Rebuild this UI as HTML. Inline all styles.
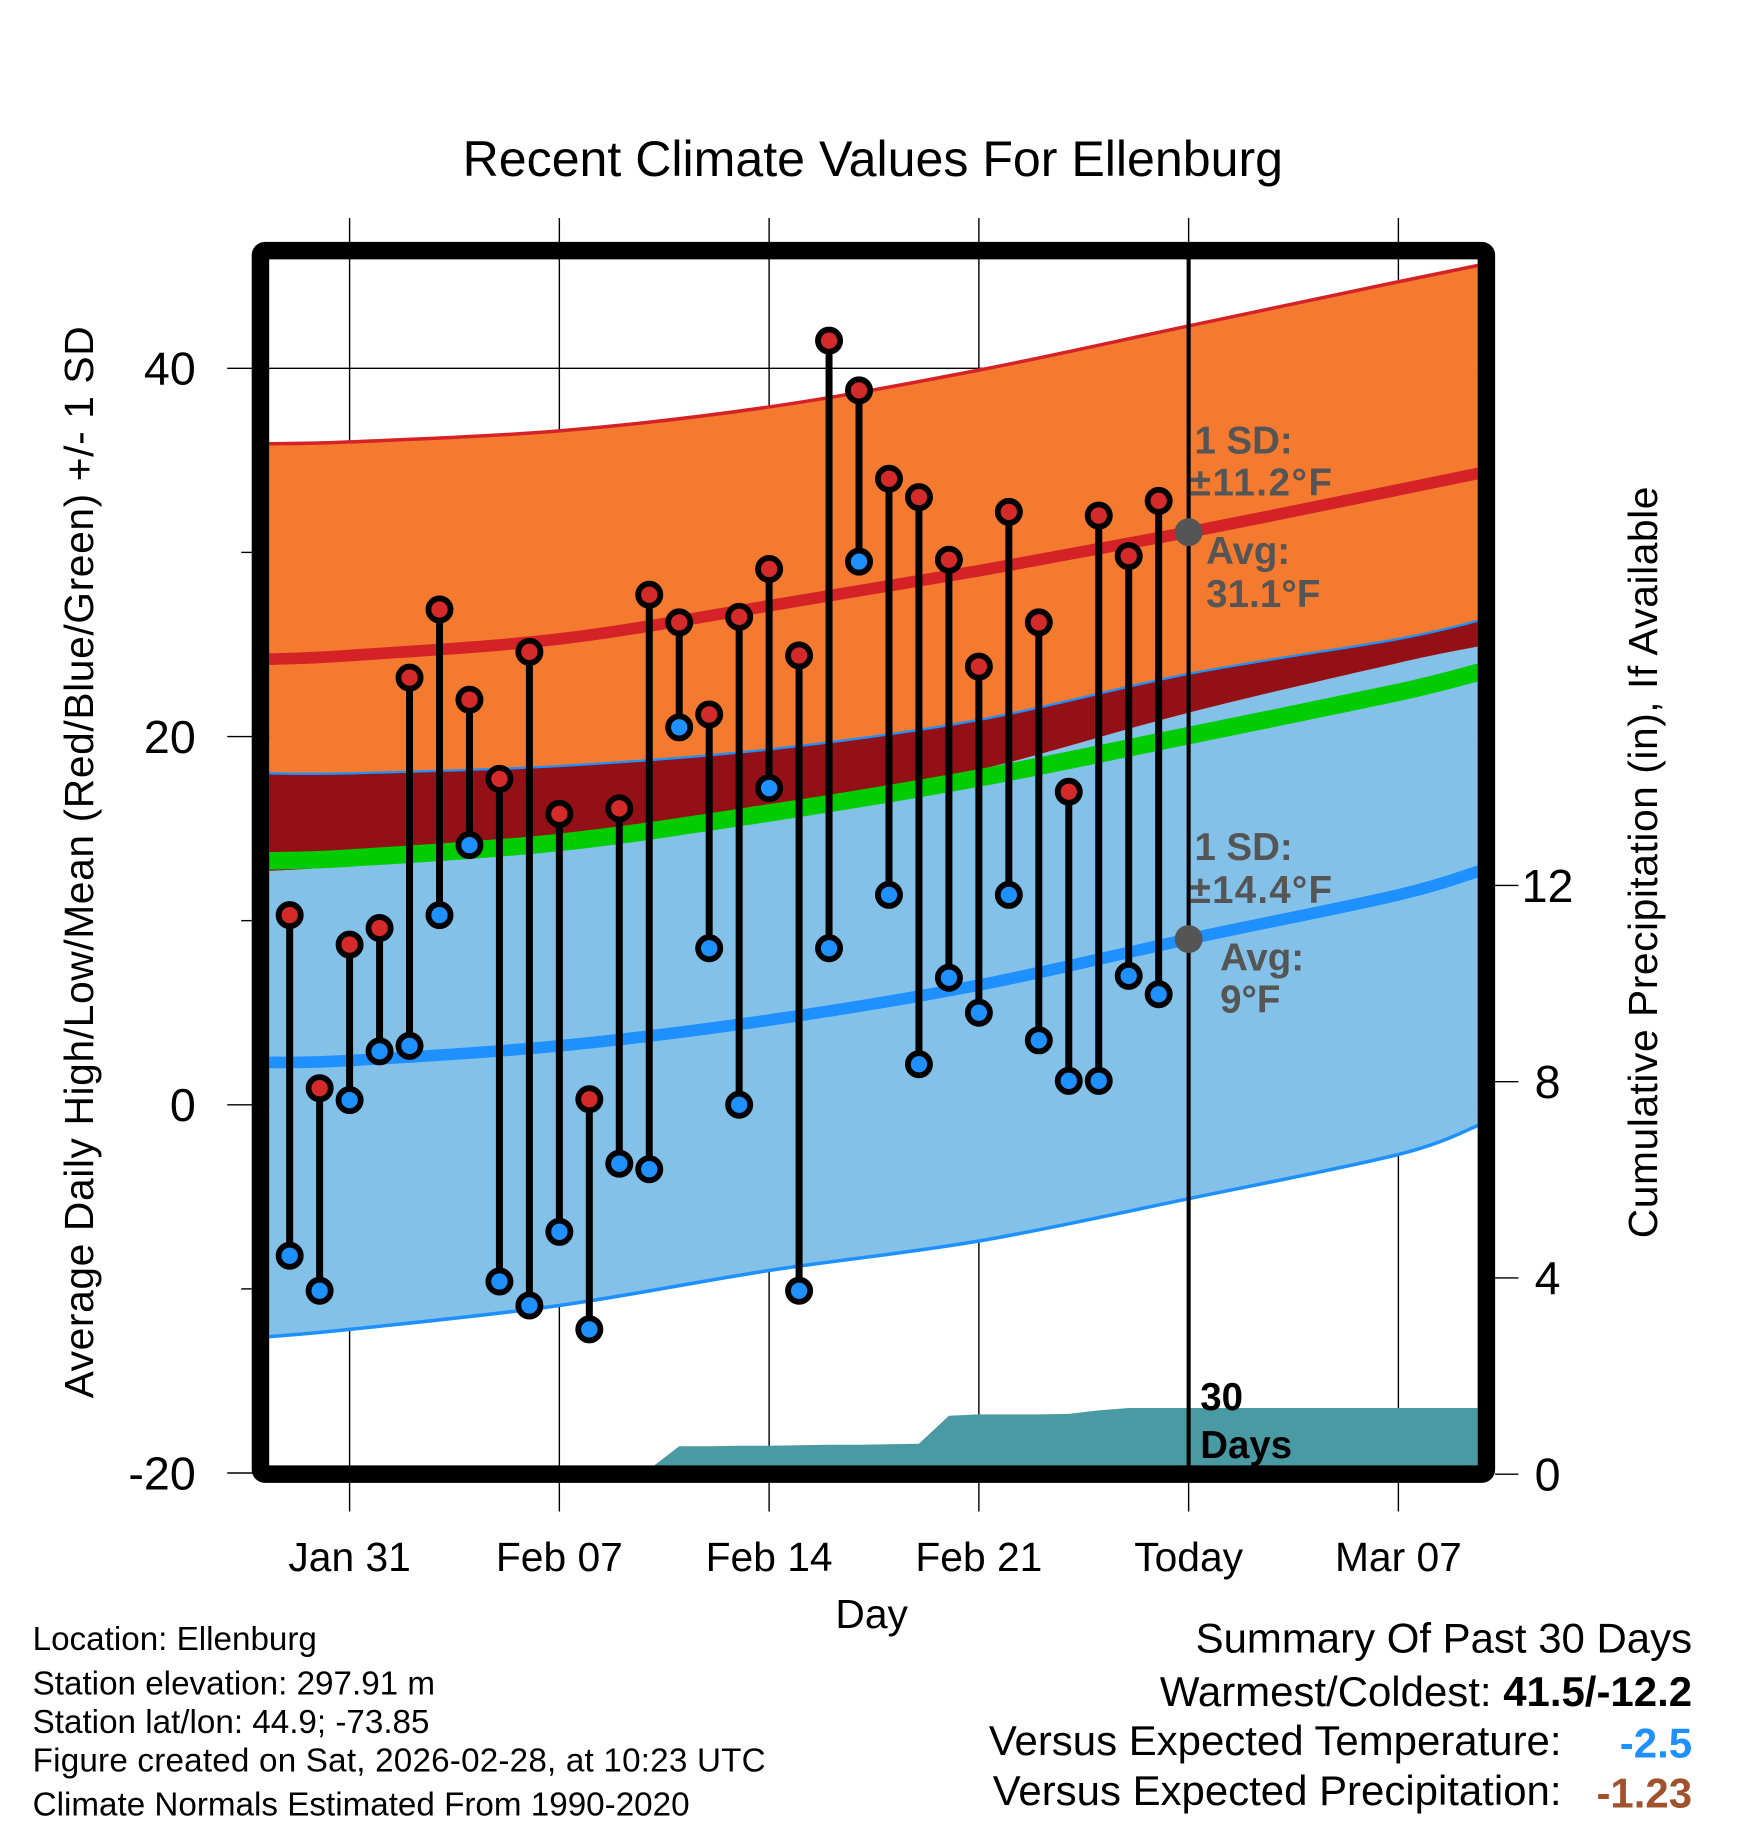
<!DOCTYPE html>
<html><head><meta charset="utf-8"><style>
html,body{margin:0;padding:0;background:#fff}
svg{display:block;font-family:"Liberation Sans",Arial,sans-serif}
</style></head><body>
<svg id="chart" width="1748" height="1828" viewBox="0 0 1500 1568.6" xmlns="http://www.w3.org/2000/svg">
<defs><clipPath id="plotclip"><rect x="231" y="222" width="1037" height="1037"/></clipPath></defs>
<text x="749" y="151" font-size="43" text-anchor="middle">Recent Climate Values For Ellenburg</text>
<g id="grid"></g>
<g id="bands" clip-path="url(#plotclip)"></g>
<g id="marks"></g>
<g id="axes"></g>
<g font-weight="bold" font-size="33" fill="#555">
<text x="1025" y="389">1 SD:</text><text x="1021" y="425" textLength="122">±11.2°F</text>
<text x="1035" y="484">Avg:</text><text x="1035" y="521" textLength="98">31.1°F</text>
<text x="1025" y="738">1 SD:</text><text x="1021" y="775" textLength="122">±14.4°F</text>
<text x="1047" y="833">Avg:</text><text x="1047" y="869">9°F</text>
</g>
<g font-weight="bold" font-size="33" fill="#000">
<text x="1030" y="1210">30</text><text x="1030" y="1251">Days</text>
</g>
<text transform="translate(80,740) rotate(-90)" font-size="35" text-anchor="middle" textLength="920">Average Daily High/Low/Mean (Red/Blue/Green) +/- 1 SD</text>
<text transform="translate(1422,740) rotate(-90)" font-size="35" text-anchor="middle" textLength="645">Cumulative Precipitation (in), If Available</text>
<text x="748" y="1397" font-size="35" text-anchor="middle">Day</text>
<g font-size="28.5">
<text x="28" y="1416">Location: Ellenburg</text>
<text x="28" y="1454">Station elevation: 297.91 m</text>
<text x="28" y="1487">Station lat/lon: 44.9; -73.85</text>
<text x="28" y="1520" textLength="629">Figure created on Sat, 2026-02-28, at 10:23 UTC</text>
<text x="28" y="1558">Climate Normals Estimated From 1990-2020</text>
</g>
<g font-size="36" text-anchor="end">
<text x="1452" y="1418">Summary Of Past 30 Days</text>
<text x="1452" y="1464">Warmest/Coldest: <tspan font-weight="bold">41.5/-12.2</tspan></text>
<text x="1340" y="1506">Versus Expected Temperature:</text>
<text x="1452" y="1508" font-weight="bold" fill="#1e90ff">-2.5</text>
<text x="1340" y="1549">Versus Expected Precipitation:</text>
<text x="1452" y="1551" font-weight="bold" fill="#a0522d">-1.23</text>
</g>
</svg>
<script>
// Daily observations, Jan 29 .. Feb 27 (day offsets relative to Jan 31)
const dayStart = -2;
const highs = [10.3,0.9,8.7,9.6,23.2,26.9,22.0,17.7,24.6,15.8,0.3,16.1,27.7,26.2,21.2,26.5,29.1,24.4,41.5,38.8,34.0,33.0,29.6,23.8,32.2,26.2,17.0,32.0,29.8,32.8];
const lows = [-8.2,-10.1,0.25,2.9,3.2,10.3,14.1,-9.6,-10.9,-6.9,-12.2,-3.2,-3.5,20.5,8.5,0,17.2,-10.1,8.5,29.5,11.4,2.2,6.9,5.0,11.4,3.5,1.3,1.3,7.0,6.0];
const precip = [0,0,0,0,0,0,0,0,0,0,0,0,0.1,0.57,0.57,0.58,0.58,0.59,0.6,0.6,0.61,0.62,1.19,1.22,1.22,1.22,1.23,1.3,1.35,1.35];
// Climate normals sampled at day offsets
const normDays = [-2.7,0,7,14,21,28,35,37.7];
const hiUpper = [35.9,36.0,36.6,37.9,39.9,42.3,44.7,45.6];
const hiMean = [24.2,24.4,25.3,27.1,29.0,31.1,33.4,34.3];
const hiLower = [12.7,13.0,14.2,16.0,18.2,21.3,24.0,24.9];
const loUpper = [18.0,18.0,18.4,19.3,20.9,23.4,25.3,26.3];
const loMean = [2.3,2.4,3.2,4.6,6.5,9.0,11.4,12.7];
const loLower = [-12.6,-12.2,-10.9,-9.0,-7.4,-5.1,-2.7,-1.1];
const xTickDays = [0,7,14,21,28,35];
const xTickLabels = ["Jan 31","Feb 07","Feb 14","Feb 21","Today","Mar 07"];
const yTicks = [-20,0,20,40];
const yMinor = [-10,10,30];
const pTicks = [0,4,8,12];
const todayDay = 28;

const NS = "http://www.w3.org/2000/svg";
const X = d => 300 + d * 25.714;
const Y = v => 948 - v * 15.8;
const YP = p => 1265 - p * 42.1;
function mk(tag, attrs, parent){const e=document.createElementNS(NS,tag);for(const k in attrs)e.setAttribute(k,attrs[k]);parent.appendChild(e);return e;}
const grid=document.getElementById('grid'),bands=document.getElementById('bands'),marks=document.getElementById('marks'),axes=document.getElementById('axes');

function P(arr){return normDays.map((d,i)=>[X(d),Y(arr[i])]);}
function smooth(p,start){
  let s=(start?'M':'L')+p[0][0]+','+p[0][1];
  for(let i=0;i<p.length-1;i++){
    const p0=p[Math.max(0,i-1)],p1=p[i],p2=p[i+1],p3=p[Math.min(p.length-1,i+2)];
    const c1=[p1[0]+(p2[0]-p0[0])/6,p1[1]+(p2[1]-p0[1])/6];
    const c2=[p2[0]-(p3[0]-p1[0])/6,p2[1]-(p3[1]-p1[1])/6];
    s+=' C'+c1+' '+c2+' '+p2;
  }
  return s;
}
function area(top,bot){return smooth(P(top),true)+' '+smooth(P(bot).reverse(),false)+' Z';}
function line(arr){return smooth(P(arr),true);}

let e;
e=mk('path',{d:area(loUpper,loLower),fill:'#83c1e8'},bands);


e=mk('path',{d:area(hiUpper,hiLower),fill:'#f47a30'},bands);


e=mk('path',{d:area(loUpper,hiLower),fill:'#921016'},bands);


e=mk('path',{d:line(loUpper),fill:'none',stroke:'#1e90ff','stroke-width':2},bands);


e=mk('path',{d:line(loLower),fill:'none',stroke:'#1e90ff','stroke-width':3},bands);


e=mk('path',{d:line(hiUpper),fill:'none',stroke:'#d42227','stroke-width':3},bands);


const meanAvg = hiMean.map((v,i)=>(v+loMean[i])/2);
e=mk('path',{d:line(meanAvg),fill:'none',stroke:'#00cc00','stroke-width':15},bands);


e=mk('path',{d:line(hiMean),fill:'none',stroke:'#d42227','stroke-width':10},bands);


e=mk('path',{d:line(loMean),fill:'none',stroke:'#1e90ff','stroke-width':10},bands);


// precipitation area
let pd='M'+X(dayStart)+','+YP(0);
precip.forEach((p,i)=>{pd+=' L'+X(dayStart+i)+','+YP(p);});
pd+=' L1268,'+YP(precip[precip.length-1])+' L1268,'+YP(0)+' Z';
e=mk('path',{d:pd,fill:'#4a9aa3'},bands);



// grid
xTickDays.forEach((d,i)=>{
  e=mk('line',{x1:X(d),x2:X(d),y1:187,y2:1297,stroke:'#000','stroke-width':1.2},grid);
  
  
  e=mk('text',{x:X(d),y:1348,'font-size':35,'text-anchor':'middle'},axes);
  e.textContent=xTickLabels[i];
  
  
});
yTicks.forEach(v=>{
  e=mk('line',{x1:195,x2:1268,y1:Y(v),y2:Y(v),stroke:'#000','stroke-width':1.2},grid);
  
  
  e=mk('text',{x:168,y:Y(v)+14,'font-size':40,'text-anchor':'end'},axes);
  e.textContent=String(v);
  
  
});
yMinor.forEach(v=>{
  e=mk('line',{x1:207,x2:216,y1:Y(v),y2:Y(v),stroke:'#000','stroke-width':1.2},axes);
  
  
});
pTicks.forEach(p=>{
  e=mk('line',{x1:1283,x2:1303,y1:YP(p),y2:YP(p),stroke:'#000','stroke-width':1.2},axes);
  
  
  e=mk('text',{x:1328,y:YP(p)+14,'font-size':40,'text-anchor':'middle'},axes);
  e.textContent=String(p);
  
  
});

// today line
e=mk('line',{x1:X(todayDay),x2:X(todayDay),y1:215,y2:1265,stroke:'#000','stroke-width':3.5},marks);



// daily bars
highs.forEach((h,i)=>{
  const x=X(dayStart+i);
  e=mk('line',{x1:x,x2:x,y1:Y(h),y2:Y(lows[i]),stroke:'#000','stroke-width':6},marks);
  
  
});
highs.forEach((h,i)=>{
  const x=X(dayStart+i);
  e=mk('circle',{cx:x,cy:Y(h),r:9.5,fill:'#d42a2a',stroke:'#000','stroke-width':5},marks);
  
  
  e=mk('circle',{cx:x,cy:Y(lows[i]),r:9.5,fill:'#1e90ff',stroke:'#000','stroke-width':5},marks);
  
  
});
// avg dots at today
e=mk('circle',{cx:X(todayDay),cy:Y(hiMean[5]),r:12,fill:'#555'},marks);


e=mk('circle',{cx:X(todayDay),cy:Y(loMean[5]),r:12,fill:'#555'},marks);



// frame
e=mk('rect',{x:223.5,y:215,width:1052,height:1050,fill:'none',stroke:'#000','stroke-width':15,rx:4},axes);


</script>
</body></html>
